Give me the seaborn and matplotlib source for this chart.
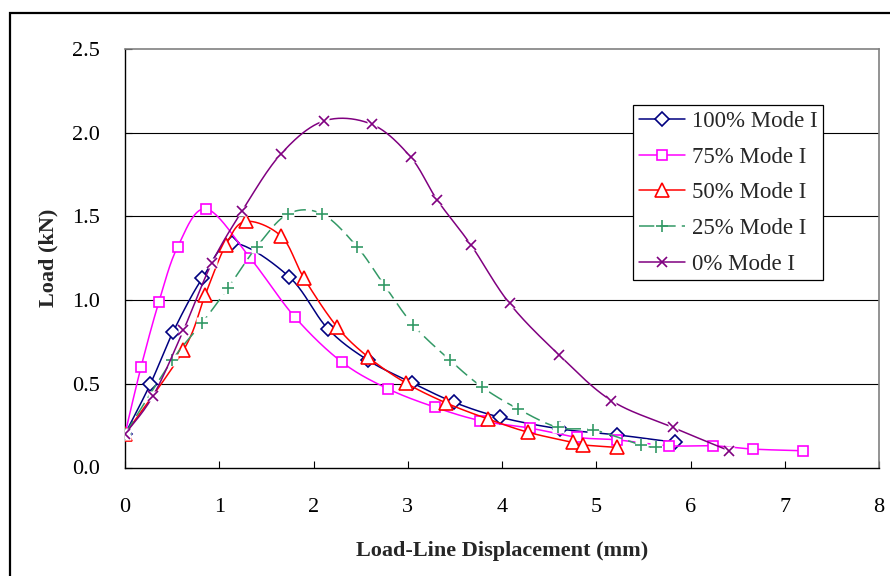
import numpy as np
import pandas as pd
import matplotlib
matplotlib.use("Agg")
import matplotlib.pyplot as plt
from matplotlib.lines import Line2D
from matplotlib.patches import Rectangle
import seaborn as sns

# Load vs. load-line displacement for five mode mixities
disp_100 = [0, 0.27, 0.51, 0.82, 1.14, 1.74, 2.15, 2.58, 3.05, 3.49, 3.98, 4.62, 5.22, 5.84]
load_100 = [0.20, 0.50, 0.81, 1.13, 1.34, 1.14, 0.83, 0.64, 0.505, 0.39, 0.30, 0.23, 0.195, 0.15]

disp_75 = [0, 0.17, 0.36, 0.56, 0.86, 1.33, 1.80, 2.30, 2.79, 3.29, 3.77, 4.30, 4.80, 5.22,
           5.77, 6.24, 6.66, 7.19]
load_75 = [0.20, 0.60, 0.99, 1.32, 1.545, 1.25, 0.90, 0.63, 0.47, 0.36, 0.28, 0.235, 0.18, 0.165,
           0.13, 0.13, 0.11, 0.10]

disp_50 = [0, 0.62, 0.85, 1.07, 1.28, 1.66, 1.90, 2.25, 2.58, 2.98, 3.41, 3.85, 4.28, 4.75, 4.86, 5.22]
load_50 = [0.20, 0.70, 1.03, 1.33, 1.47, 1.38, 1.13, 0.84, 0.66, 0.505, 0.385, 0.29, 0.21, 0.15,
           0.135, 0.12]

disp_25 = [0, 0.50, 0.82, 1.09, 1.40, 1.73, 2.09, 2.46, 2.75, 3.06, 3.45, 3.79, 4.17, 4.59, 4.97,
           5.47, 5.63]
load_25 = [0.20, 0.64, 0.865, 1.07, 1.32, 1.515, 1.515, 1.32, 1.09, 0.85, 0.64, 0.48, 0.35, 0.24,
           0.225, 0.135, 0.12]

disp_0 = [0, 0.30, 0.62, 0.92, 1.24, 1.65, 2.11, 2.62, 3.03, 3.31, 3.67, 4.08, 4.61, 5.16, 5.81, 6.41]
load_0 = [0.20, 0.43, 0.82, 1.22, 1.53, 1.87, 2.07, 2.05, 1.855, 1.60, 1.33, 0.98, 0.67, 0.40,
          0.24, 0.10]

labels = ["100% Mode I", "75% Mode I", "50% Mode I", "25% Mode I", "0% Mode I"]
x_ticks = [0, 1, 2, 3, 4, 5, 6, 7, 8]
y_ticks = [0.0, 0.5, 1.0, 1.5, 2.0, 2.5]

series = [
    (disp_100, load_100, "#000080", "D", 6.8, "-"),
    (disp_75, load_75, "#FF00FF", "s", 7.4, "-"),
    (disp_50, load_50, "#FF0000", "^", 9.8, "-"),
    (disp_25, load_25, "#339966", "+", 8.8, (0, (10, 4))),
    (disp_0, load_0, "#800080", "x", 7.4, "-"),
]


def bezier_smooth(xs, ys, n=24):
    """Cubic Bezier curve through the points (Catmull-Rom control points)."""
    p = np.column_stack([xs, ys]).astype(float)
    ext = np.vstack([p[0], p, p[-1]])
    t = np.linspace(0, 1, n)[:, None]
    parts = []
    for i in range(len(p) - 1):
        p0, p1, p2, p3 = ext[i], ext[i + 1], ext[i + 2], ext[i + 3]
        c1 = p1 + (p2 - p0) / 6.0
        c2 = p2 - (p3 - p1) / 6.0
        seg = ((1 - t) ** 3) * p1 + 3 * ((1 - t) ** 2) * t * c1 + 3 * (1 - t) * t ** 2 * c2 + t ** 3 * p2
        parts.append(seg if i == 0 else seg[1:])
    return np.vstack(parts)


sns.set_theme(style="white")
plt.rcParams["font.family"] = ["Liberation Serif", "DejaVu Serif"]

fig = plt.figure(figsize=(8.9, 5.76), dpi=100)
ax = fig.add_axes([125 / 890, 1 - 467.5 / 576, 754 / 890, 418.5 / 576])

# chart-area frame
fig.patches.append(Rectangle((10 / 890, -0.2), 1.2, 1.2 - 13 / 576,
                             transform=fig.transFigure, fill=False,
                             edgecolor="black", linewidth=1.6, zorder=0))

ax.set_xlim(0, 8)
ax.set_ylim(0, 2.5)
ax.set_xticks(x_ticks)
ax.set_yticks(y_ticks)
ax.set_yticklabels([f"{v:.1f}" for v in y_ticks])
ax.set_xticklabels([str(v) for v in x_ticks])

for gy in y_ticks[1:-1]:
    ax.axhline(gy, color="black", linewidth=0.8, zorder=1)

handles = []
for k, (xs, ys, color, mk, ms, ls) in enumerate(series):
    curve = bezier_smooth(xs, ys)
    df = pd.DataFrame({"disp": curve[:, 0], "load": curve[:, 1]})
    sns.lineplot(data=df, x="disp", y="load", sort=False, estimator=None, ax=ax,
                 color=color, linewidth=1.1, linestyle=ls, zorder=3 + 2 * k)
    if mk in ("x", "+"):
        # white patch behind open markers
        ax.plot(xs, ys, linestyle="none", marker="s", markersize=ms * 0.95,
                markerfacecolor="white", markeredgecolor="none", zorder=3.5 + 2 * k)
        ax.plot(xs, ys, linestyle="none", marker=mk, markersize=ms,
                markeredgecolor=color, markeredgewidth=1.2, zorder=3.6 + 2 * k)
    else:
        ax.plot(xs, ys, linestyle="none", marker=mk, markersize=ms,
                markerfacecolor="white", markeredgecolor=color, markeredgewidth=1.2,
                zorder=3.6 + 2 * k)
    handles.append(Line2D([], [], color=color, linewidth=1.1, linestyle=ls, marker=mk,
                          markersize=ms, markerfacecolor="white", markeredgecolor=color,
                          markeredgewidth=1.2))

ax.set_xlabel("Load-Line Displacement (mm)", fontsize=16, fontweight="bold", labelpad=17)
ax.set_ylabel("Load (kN)", fontsize=16, fontweight="bold", labelpad=10)

ax.tick_params(axis="both", direction="in", length=5, width=0.8, labelsize=16,
               color="black", labelcolor="black")
ax.tick_params(axis="y", pad=18)
ax.tick_params(axis="x", pad=22)
ax.tick_params(bottom=True, left=True)

for side in ("left", "bottom"):
    ax.spines[side].set_color("black")
    ax.spines[side].set_linewidth(1.0)
for side in ("top", "right"):
    ax.spines[side].set_color("#808080")
    ax.spines[side].set_linewidth(1.2)

leg = ax.legend(handles, labels, loc="upper left", bbox_to_anchor=(0.674, 0.866),
                borderaxespad=0, fontsize=16.5, frameon=True, fancybox=False,
                edgecolor="black", framealpha=1, handlelength=2.0, handletextpad=0.3,
                labelspacing=0.64, borderpad=0.25)
leg.get_frame().set_linewidth(0.9)
leg.set_zorder(20)

fig.savefig("out.png", dpi=100)
